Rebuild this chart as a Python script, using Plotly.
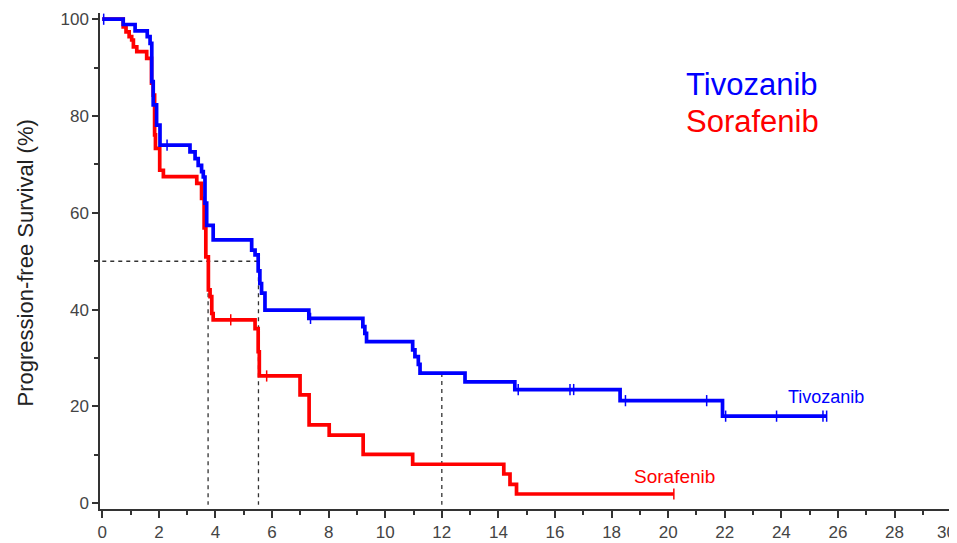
import plotly.graph_objects as go

# ---- data (months, % progression-free) ----
tivo_t = [0, 0.74, 1.16, 1.59, 1.69, 1.75, 1.80, 1.92, 2.04, 3.10, 3.28, 3.39, 3.51, 3.57, 3.63, 3.69,
          3.92, 5.28, 5.40, 5.51, 5.57, 5.63, 5.75, 7.30, 9.21, 9.28, 9.34, 10.97, 11.05, 11.17, 11.23,
          12.82, 14.58, 18.30, 21.92, 25.60]
tivo_s = [100, 98.9, 97.6, 96.4, 95.0, 87.1, 82.3, 78.1, 74.0, 72.6, 71.2, 69.8, 68.5, 67.4, 62.0, 57.4,
          54.4, 52.3, 51.3, 48.0, 45.4, 43.4, 39.9, 38.2, 36.5, 35.1, 33.4, 31.7, 30.3, 28.7, 26.9,
          25.1, 23.5, 21.2, 18.0, 18.0]
tivo_cens = [0.05, 2.29, 7.36, 14.70, 16.53, 16.66, 18.49, 21.36, 22.03, 23.83, 25.47, 25.60]

sora_t = [0, 0.74, 0.84, 0.95, 1.04, 1.10, 1.22, 1.57, 1.74, 1.80, 1.85, 1.88, 2.03, 2.16, 3.34, 3.51,
          3.60, 3.66, 3.75, 3.81, 3.87, 3.92, 5.40, 5.51, 5.55, 6.99, 7.31, 8.02, 9.22, 10.97, 14.19,
          14.41, 14.64, 20.20]
sora_s = [100, 98.4, 97.4, 96.4, 95.7, 94.3, 93.3, 91.9, 86.8, 84.3, 76.1, 73.3, 68.8, 67.5, 66.1, 63.0,
          56.9, 50.9, 44.1, 42.7, 39.2, 37.9, 36.1, 31.3, 26.3, 22.4, 16.2, 14.1, 10.1, 8.06, 6.05,
          3.92, 1.92, 1.92]
sora_cens = [4.54, 5.81, 20.20]

median_sora = 3.74
median_tivo = 5.52
landmark = 12.0
half = 50

x_ticks = list(range(0, 31, 2))
y_ticks = list(range(0, 101, 20))

BLUE = "#0000FF"
RED = "#FF0000"


def step_val(ts, ss, x):
    v = ss[0]
    for t, s in zip(ts, ss):
        if t <= x:
            v = s
    return v


fig = go.Figure()

# reference dashed lines
dash = dict(color="#333333", width=1.3, dash="4px,4px")
fig.add_trace(go.Scatter(x=[0, median_tivo], y=[half, half], mode="lines", line=dash,
                         hoverinfo="skip", showlegend=False))
for m in (median_sora, median_tivo):
    fig.add_trace(go.Scatter(x=[m, m], y=[half, -0.3], mode="lines", line=dash,
                             hoverinfo="skip", showlegend=False))
fig.add_trace(go.Scatter(x=[landmark, landmark], y=[step_val(tivo_t, tivo_s, landmark), -0.3],
                         mode="lines", line=dash, hoverinfo="skip", showlegend=False))

for ts, ss, cens, col, name in ((sora_t, sora_s, sora_cens, RED, "Sorafenib"),
                                (tivo_t, tivo_s, tivo_cens, BLUE, "Tivozanib")):
    fig.add_trace(go.Scatter(x=ts, y=ss, mode="lines", line=dict(color=col, width=3.7, shape="hv"),
                             name=name, showlegend=False))
    fig.add_trace(go.Scatter(x=cens, y=[step_val(ts, ss, c) for c in cens], mode="markers",
                             marker=dict(symbol="line-ns", size=8, line=dict(color=col, width=1.5)),
                             showlegend=False, hoverinfo="skip"))

axis_font = dict(family="Liberation Sans, Arial, sans-serif", size=17, color="#444444")

# last x label is drawn separately so it stays inside the page edge
x_ticktext = [str(v) for v in x_ticks[:-1]] + [""]

# page body has an 8px margin: figure is sized/offset to compensate
fig.update_layout(
    width=949, height=535,
    margin=dict(l=92, r=5, t=5, b=34, autoexpand=False),
    paper_bgcolor="white", plot_bgcolor="white",
    xaxis=dict(range=[-0.08, 30.03], tickvals=x_ticks, ticktext=x_ticktext,
               automargin=False,
               showline=True, linecolor="#333333", linewidth=1.5, showgrid=False, zeroline=False,
               ticks="outside", ticklen=7, tickwidth=1.5, tickcolor="#333333", tickfont=axis_font,
               minor=dict(dtick=1, ticks="outside", ticklen=4, tickwidth=1.5, tickcolor="#333333")),
    yaxis=dict(range=[-1.18, 101.28], tickvals=y_ticks, ticktext=[str(v) for v in y_ticks],
               automargin=False,
               showline=True, linecolor="#333333", linewidth=1.5, showgrid=False, zeroline=False,
               ticks="outside", ticklen=6, tickwidth=1.5, tickcolor="#333333", tickfont=axis_font,
               minor=dict(dtick=10, ticks="outside", ticklen=4, tickwidth=1.5, tickcolor="#333333")),
    font=dict(family="Liberation Sans, Arial, sans-serif"),
)

fig.add_annotation(text=str(x_ticks[-1]), x=x_ticks[-1], xref="x", yref="paper", y=-23 / 496,
                   xanchor="center", yanchor="middle", xshift=-5, showarrow=False, font=axis_font)

# y-axis title
fig.add_annotation(text="Progression-free Survival (%)", xref="paper", yref="paper",
                   x=(25 - 100) / 852, y=0.495, xanchor="center", yanchor="middle", textangle=-90,
                   showarrow=False, font=dict(size=22, color="#222222"))

# legend-like labels
fig.add_annotation(text="Tivozanib", xref="paper", yref="paper", x=(684 - 100) / 852,
                   y=1 - (85 - 13) / 496, xanchor="left", yanchor="middle", showarrow=False,
                   font=dict(size=31, color=BLUE))
fig.add_annotation(text="Sorafenib", xref="paper", yref="paper", x=(684 - 100) / 852,
                   y=1 - (122 - 13) / 496, xanchor="left", yanchor="middle", showarrow=False,
                   font=dict(size=31, color=RED))

# curve end labels
fig.add_annotation(text="Tivozanib", x=24.15, y=22.0, xanchor="left", yanchor="middle",
                   showarrow=False, font=dict(size=18, color=BLUE))
fig.add_annotation(text="Sorafenib", x=18.72, y=5.5, xanchor="left", yanchor="middle",
                   showarrow=False, font=dict(size=19, color=RED))

fig.write_html("out.html")
